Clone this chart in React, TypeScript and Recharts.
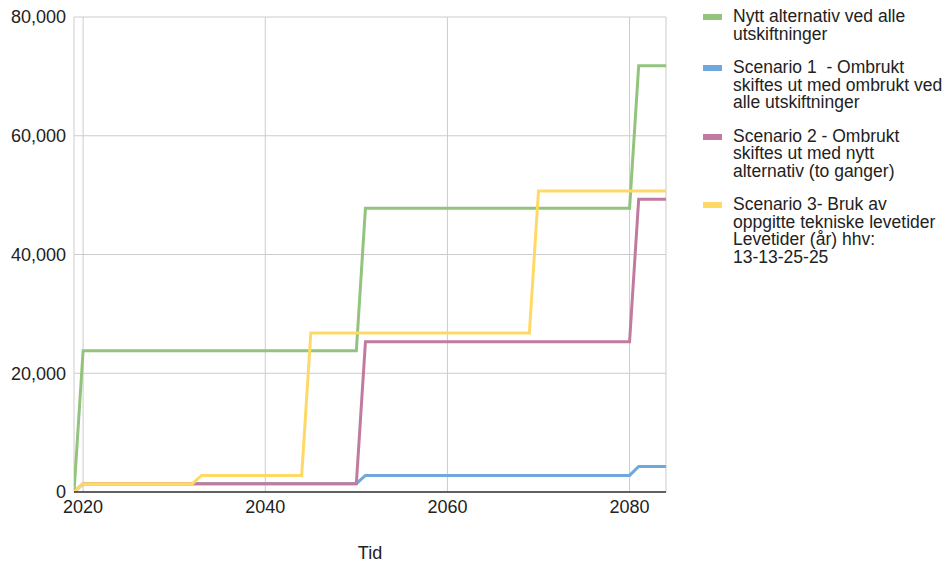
import React from 'react';
import { LineChart, Line, XAxis, YAxis, CartesianGrid } from 'recharts';

const years = [2019, 2020, 2032, 2033, 2044, 2045, 2050, 2051, 2069, 2070, 2080, 2081, 2084];
const nyttAlternativ = [0, 23800, 23800, 23800, 23800, 23800, 23800, 47800, 47800, 47800, 47800, 71800, 71800];
const scenario1 = [0, 1400, 1400, 1400, 1400, 1400, 1400, 2800, 2800, 2800, 2800, 4300, 4300];
const scenario2 = [0, 1400, 1400, 1400, 1400, 1400, 1400, 25300, 25300, 25300, 25300, 49300, 49300];
const scenario3 = [0, 1400, 1400, 2800, 2800, 26800, 26800, 26800, 26800, 50700, 50700, 50700, 50700];

const xTicks = [2020, 2040, 2060, 2080];
const yTicks = [0, 20000, 40000, 60000, 80000];

const seriesNames = [
  'Nytt alternativ ved alle utskiftninger',
  'Scenario 1  - Ombrukt skiftes ut med ombrukt ved alle utskiftninger',
  'Scenario 2 - Ombrukt skiftes ut med nytt alternativ (to ganger)',
  'Scenario 3- Bruk av oppgitte tekniske levetider Levetider (år) hhv: 13-13-25-25',
];
const legendLines = [
  ['Nytt alternativ ved alle', 'utskiftninger'],
  ['Scenario 1  - Ombrukt', 'skiftes ut med ombrukt ved', 'alle utskiftninger'],
  ['Scenario 2 - Ombrukt', 'skiftes ut med nytt', 'alternativ (to ganger)'],
  ['Scenario 3- Bruk av', 'oppgitte tekniske levetider', 'Levetider (år) hhv:', '13-13-25-25'],
];
const colors = ['#93c47d', '#6fa8dc', '#c27ba0', '#ffd966'];
const keys = ['s0', 's1', 's2', 's3'];

const data = years.map((y, i) => ({
  year: y,
  s0: nyttAlternativ[i],
  s1: scenario1[i],
  s2: scenario2[i],
  s3: scenario3[i],
}));

const FONT = 'Arial, "Liberation Sans", sans-serif';

const LegendBlock = () => (
  <div
    style={{
      position: 'absolute',
      left: 693,
      top: 8,
      width: 253,
      fontFamily: FONT,
      fontSize: 17.5,
      color: '#222',
    }}
  >
    {legendLines.map((lines, i) => (
      <div key={i} style={{ position: 'relative', marginBottom: 16, paddingLeft: 40 }} title={seriesNames[i]}>
        <div
          style={{
            position: 'absolute',
            left: 10,
            top: 6,
            width: 19,
            height: 6,
            background: colors[i],
          }}
        />
        {lines.map((l, j) => (
          <div key={j} style={{ lineHeight: '17.5px', whiteSpace: 'pre' }}>{l}</div>
        ))}
      </div>
    ))}
  </div>
);

export default function App() {
  return (
    <div style={{ position: 'absolute', left: 0, top: 0, width: 946, height: 563, background: '#fff' }}>
      <LineChart
        width={946}
        height={563}
        data={data}
        margin={{ top: 17, right: 280, bottom: 0, left: 0 }}
      >
        <CartesianGrid stroke="#cccccc" strokeWidth={1} />
        <XAxis
          dataKey="year"
          type="number"
          domain={[2019, 2084]}
          ticks={xTicks}
          allowDataOverflow
          tickLine={false}
          tickSize={0}
          tickMargin={8}
          height={71}
          axisLine={{ stroke: '#333333', strokeWidth: 1.5 }}
          tick={{ fill: '#222', fontSize: 18, fontFamily: FONT }}
          label={{ value: 'Tid', position: 'insideBottom', offset: 4, fill: '#222', fontSize: 18, fontFamily: FONT }}
        />
        <YAxis
          type="number"
          domain={[0, 80000]}
          ticks={yTicks}
          width={74}
          axisLine={false}
          tickLine={false}
          tickSize={0}
          tickMargin={8}
          tickFormatter={(v: number) => v.toLocaleString('en-US')}
          tick={{ fill: '#222', fontSize: 18, fontFamily: FONT }}
        />
        {keys.map((k, i) => (
          <Line
            key={k}
            dataKey={k}
            name={seriesNames[i]}
            type="linear"
            stroke={colors[i]}
            strokeWidth={3}
            dot={false}
            activeDot={false}
            isAnimationActive={false}
          />
        ))}
      </LineChart>
      <LegendBlock />
    </div>
  );
}
